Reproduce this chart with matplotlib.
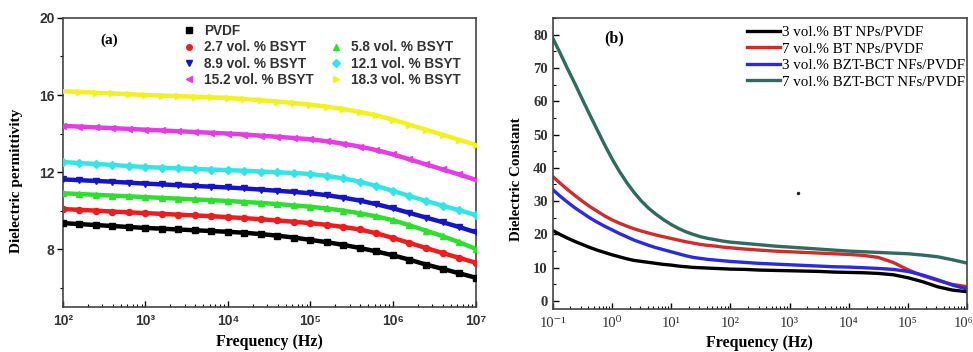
import numpy as np
import matplotlib
matplotlib.use("Agg")
import matplotlib.pyplot as plt
import matplotlib.transforms as mtransforms
from matplotlib.lines import Line2D
from matplotlib.ticker import FixedLocator, FixedFormatter, LogLocator, NullFormatter

# ---------------- Panel (a) data ----------------
log_freq_a = [2.0, 2.2, 2.4, 2.6, 2.8, 3.0, 3.2, 3.4, 3.6, 3.8, 4.0, 4.2, 4.4,
              4.6, 4.8, 5.0, 5.2, 5.4, 5.6, 5.8, 6.0, 6.2, 6.4, 6.6, 6.8, 7.0]
labels_a = ["PVDF", "2.7 vol. % BSYT", "5.8 vol. % BSYT", "8.9 vol. % BSYT",
            "12.1 vol. % BSYT", "15.2 vol. % BSYT", "18.3 vol. % BSYT"]
pvdf = [9.35, 9.30, 9.25, 9.20, 9.15, 9.10, 9.06, 9.02, 8.98, 8.94, 8.90, 8.85, 8.78,
        8.70, 8.60, 8.48, 8.36, 8.22, 8.06, 7.88, 7.68, 7.45, 7.20, 6.98, 6.75, 6.52]
bsyt_2_7 = [10.08, 10.04, 10.00, 9.95, 9.91, 9.87, 9.83, 9.79, 9.75, 9.71, 9.66, 9.61, 9.55,
            9.49, 9.42, 9.35, 9.26, 9.15, 9.02, 8.82, 8.58, 8.32, 8.06, 7.80, 7.55, 7.30]
bsyt_5_8 = [10.90, 10.86, 10.82, 10.78, 10.74, 10.70, 10.66, 10.62, 10.58, 10.54, 10.50, 10.45, 10.40,
            10.34, 10.27, 10.20, 10.11, 10.00, 9.86, 9.70, 9.50, 9.24, 8.96, 8.68, 8.36, 8.02]
bsyt_8_9 = [11.62, 11.58, 11.54, 11.50, 11.45, 11.40, 11.36, 11.32, 11.28, 11.24, 11.20, 11.15, 11.09,
            11.03, 10.97, 10.90, 10.80, 10.67, 10.52, 10.33, 10.12, 9.88, 9.64, 9.40, 9.15, 8.88]
bsyt_12_1 = [12.52, 12.47, 12.42, 12.37, 12.31, 12.26, 12.23, 12.19, 12.16, 12.13, 12.10, 12.07, 12.03,
             11.99, 11.95, 11.90, 11.80, 11.67, 11.50, 11.28, 11.02, 10.76, 10.50, 10.26, 10.02, 9.78]
bsyt_15_2 = [14.40, 14.36, 14.32, 14.28, 14.24, 14.20, 14.16, 14.12, 14.08, 14.04, 14.00, 13.95, 13.89,
             13.83, 13.77, 13.70, 13.60, 13.47, 13.32, 13.14, 12.92, 12.66, 12.40, 12.14, 11.88, 11.60]
bsyt_18_3 = [16.20, 16.16, 16.12, 16.08, 16.04, 16.00, 15.97, 15.94, 15.91, 15.88, 15.85, 15.79, 15.73,
             15.66, 15.58, 15.50, 15.39, 15.27, 15.12, 14.94, 14.72, 14.46, 14.20, 13.94, 13.68, 13.42]
xticks_a = [1e2, 1e3, 1e4, 1e5, 1e6, 1e7]
xticklabels_a = ["10²", "10³", "10⁴", "10⁵", "10⁶", "10⁷"]
yticks_a = [8, 12, 16, 20]

# ---------------- Panel (b) data ----------------
log_freq_b = [-1.0, -0.875, -0.75, -0.625, -0.5, -0.375, -0.25, -0.125, 0.0, 0.125, 0.25, 0.375,
              0.5, 0.625, 0.75, 0.875, 1.0, 1.125, 1.25, 1.375, 1.5, 1.625, 1.75, 1.875, 2.0,
              2.25, 2.5, 2.75, 3.0, 3.25, 3.5, 3.75, 4.0, 4.25, 4.5, 4.75, 5.0, 5.25, 5.5, 5.75, 6.0]
labels_b = ["3 vol.% BT NPs/PVDF", "7 vol.% BT NPs/PVDF",
            "3 vol.% BZT-BCT NFs/PVDF", "7 vol.% BZT-BCT NFs/PVDF"]
bt3 = [21.2, 20.0, 18.9, 17.9, 17.0, 16.1, 15.3, 14.6, 13.9, 13.3, 12.7, 12.2,
       11.9, 11.6, 11.3, 11.0, 10.8, 10.5, 10.3, 10.1, 10.0, 9.9, 9.8, 9.7, 9.6,
       9.5, 9.3, 9.2, 9.1, 9.0, 8.9, 8.7, 8.6, 8.5, 8.3, 7.9, 7.0, 5.8, 4.3, 3.3, 2.8]
bt7 = [37.4, 35.4, 33.5, 31.7, 30.0, 28.4, 27.0, 25.6, 24.4, 23.4, 22.5, 21.7,
       21.0, 20.4, 19.8, 19.3, 18.8, 18.3, 17.8, 17.4, 17.0, 16.7, 16.5, 16.2, 16.0,
       15.6, 15.3, 15.0, 14.8, 14.6, 14.4, 14.2, 14.0, 13.7, 13.1, 11.6, 9.4, 7.6, 6.2, 5.0, 4.3]
bzt3 = [33.5, 31.5, 29.7, 28.0, 26.5, 25.0, 23.7, 22.5, 21.4, 20.3, 19.3, 18.3,
        17.5, 16.7, 16.0, 15.4, 14.8, 14.2, 13.6, 13.1, 12.8, 12.5, 12.3, 12.1, 11.9,
        11.6, 11.3, 11.1, 10.9, 10.7, 10.5, 10.3, 10.2, 10.0, 9.8, 9.5, 8.9, 7.8, 6.4, 4.8, 3.6]
bzt7 = [79.0, 74.5, 69.8, 65.3, 60.6, 56.0, 51.5, 47.0, 42.8, 39.0, 35.6, 32.6,
        30.0, 27.8, 26.0, 24.4, 23.0, 21.8, 20.8, 20.0, 19.3, 18.8, 18.4, 18.0, 17.7,
        17.3, 16.9, 16.5, 16.2, 15.9, 15.6, 15.3, 15.0, 14.8, 14.6, 14.4, 14.2, 13.8, 13.3, 12.4, 11.4]
stray_dot = ([1.4e3], [32.5])
xticks_b = [1e-1, 1e0, 1e1, 1e2, 1e3, 1e4, 1e5, 1e6]
xticklabels_b = ["10⁻¹", "10⁰", "10¹", "10²", "10³", "10⁴", "10⁵", "10⁶"]
yticks_b = [0, 10, 20, 30, 40, 50, 60, 70, 80]

SANS = ["Liberation Sans", "DejaVu Sans"]
SERIF = ["Liberation Serif", "DejaVu Serif"]

fig = plt.figure(figsize=(9.73, 3.52), dpi=100)
fig.patch.set_facecolor("white")

# ================= Panel (a) =================
axa = fig.add_axes([0.0647, 0.128, 0.424, 0.821])
fa = 10.0 ** np.array(log_freq_a)
series_a = [pvdf, bsyt_2_7, bsyt_5_8, bsyt_8_9, bsyt_12_1, bsyt_15_2, bsyt_18_3]
colors_a = ["#000000", "#ee1c1c", "#2ee02e", "#1414c8", "#33e6e6", "#e63ce6", "#f2f21e"]
markers_a = ["s", "o", "^", "v", "D", "<", ">"]
handles = []
for ys, c, m, lab in zip(series_a, colors_a, markers_a, labels_a):
    axa.plot(fa, ys, color=c, lw=3.2, solid_capstyle="butt", zorder=2)
    axa.plot(fa, ys, ls="none", marker=m, ms=4.4, color=c, mec=c, zorder=3)
    handles.append(Line2D([], [], ls="none", marker=m, ms=4, color=c, label=lab))
axa.set_xscale("log")
axa.set_xlim(1e2, 1e7)
axa.set_ylim(5, 20)
axa.xaxis.set_major_locator(FixedLocator(xticks_a))
axa.xaxis.set_major_formatter(FixedFormatter(xticklabels_a))
axa.xaxis.set_minor_locator(LogLocator(base=10, subs=np.arange(2, 10)))
axa.xaxis.set_minor_formatter(NullFormatter())
axa.yaxis.set_major_locator(FixedLocator(yticks_a))
axa.yaxis.set_minor_locator(FixedLocator([6, 10, 14, 18]))
axa.tick_params(axis="x", which="major", direction="in", length=4, width=1.0, pad=5)
axa.tick_params(axis="x", which="minor", direction="in", length=2.5, width=0.8)
axa.tick_params(axis="y", which="major", direction="out", length=4, width=1.0, pad=2)
axa.tick_params(axis="y", which="minor", direction="out", length=2.5, width=0.8)
for lab in axa.get_xticklabels() + axa.get_yticklabels():
    lab.set_fontfamily(SANS)
    lab.set_fontweight("bold")
    lab.set_fontsize(10)
    lab.set_color("#333333")
for sp in axa.spines.values():
    sp.set_linewidth(1.2)
    sp.set_color("#444444")
axa.set_xlabel("Frequency (Hz)", family=SERIF, fontweight="bold", fontsize=11.5, labelpad=4.5)
axa.set_ylabel("Dielectric permittivity", family=SERIF, fontweight="bold", fontsize=11)
axa.yaxis.set_label_coords(-0.097, 0.436)
axa.text(0.09, 0.91, "(a)", transform=axa.transAxes, family=SERIF, fontweight="bold", fontsize=11)
blank = Line2D([], [], ls="none", marker=None, label=" ")
order = [handles[0], handles[1], handles[3], handles[5], blank, handles[2], handles[4], handles[6]]
leg = axa.legend(handles=order, labels=[h.get_label() for h in order], ncol=2,
                 loc="upper left", bbox_to_anchor=(0.27, 1.012), frameon=False,
                 prop={"family": SANS, "weight": "bold", "size": 9.8},
                 handlelength=0.8, handletextpad=0.7, columnspacing=1.2,
                 labelspacing=0.17, borderpad=0.2)
for t in leg.get_texts():
    t.set_color("#333333")

# ================= Panel (b) =================
axb = fig.add_axes([0.568, 0.122, 0.426, 0.827])
fb = 10.0 ** np.array(log_freq_b)
series_b = [bt3, bt7, bzt3, bzt7]
colors_b = ["#000000", "#d42a2a", "#2a2ae6", "#2f6b5f"]
for ys, c, lab in zip(series_b, colors_b, labels_b):
    axb.plot(fb, ys, color=c, lw=2.4, label=lab, solid_joinstyle="round")
axb.plot(stray_dot[0], stray_dot[1], ls="none", marker="o", ms=1.5, color="#222222")
axb.set_xscale("log")
axb.set_xlim(1e-1, 1e6)
axb.set_ylim(-2.4, 85)
axb.xaxis.set_major_locator(FixedLocator(xticks_b))
axb.xaxis.set_major_formatter(FixedFormatter(xticklabels_b))
axb.xaxis.set_minor_locator(LogLocator(base=10, subs=np.arange(2, 10)))
axb.xaxis.set_minor_formatter(NullFormatter())
axb.yaxis.set_major_locator(FixedLocator(yticks_b))
axb.yaxis.set_minor_locator(FixedLocator([5, 15, 25, 35, 45, 55, 65, 75, 85]))
axb.tick_params(which="major", direction="in", length=4, width=1.0)
axb.tick_params(which="minor", direction="in", length=2.5, width=0.8)
axb.tick_params(axis="x", pad=6)
for lab in axb.get_xticklabels():
    lab.set_fontfamily(SERIF)
    lab.set_fontsize(10.5)
    lab.set_color("#333333")
last = axb.get_xticklabels()[-1]
last.set_horizontalalignment("right")
last.set_transform(last.get_transform() + mtransforms.ScaledTranslation(6 / 100, 0, fig.dpi_scale_trans))
for lab in axb.get_yticklabels():
    lab.set_fontfamily(SERIF)
    lab.set_fontweight("bold")
    lab.set_fontsize(10.5)
    lab.set_color("#333333")
for sp in axb.spines.values():
    sp.set_linewidth(1.2)
    sp.set_color("#444444")
axb.set_xlabel("Frequency (Hz)", family=SERIF, fontweight="bold", fontsize=11.5, labelpad=3)
axb.set_ylabel("Dielectric Constant", family=SERIF, fontweight="bold", fontsize=10.8)
axb.yaxis.set_label_coords(-0.072, 0.447)
axb.text(0.125, 0.915, "(b)", transform=axb.transAxes, family=SERIF, fontweight="bold", fontsize=11.5)
axb.legend(loc="upper left", bbox_to_anchor=(0.44, 1.015), frameon=False,
           prop={"family": SERIF, "size": 10.8}, handlelength=2.2, handletextpad=0.1,
           labelspacing=0.2, borderpad=0.3)

fig.savefig("out.png", dpi=100, facecolor="white")
